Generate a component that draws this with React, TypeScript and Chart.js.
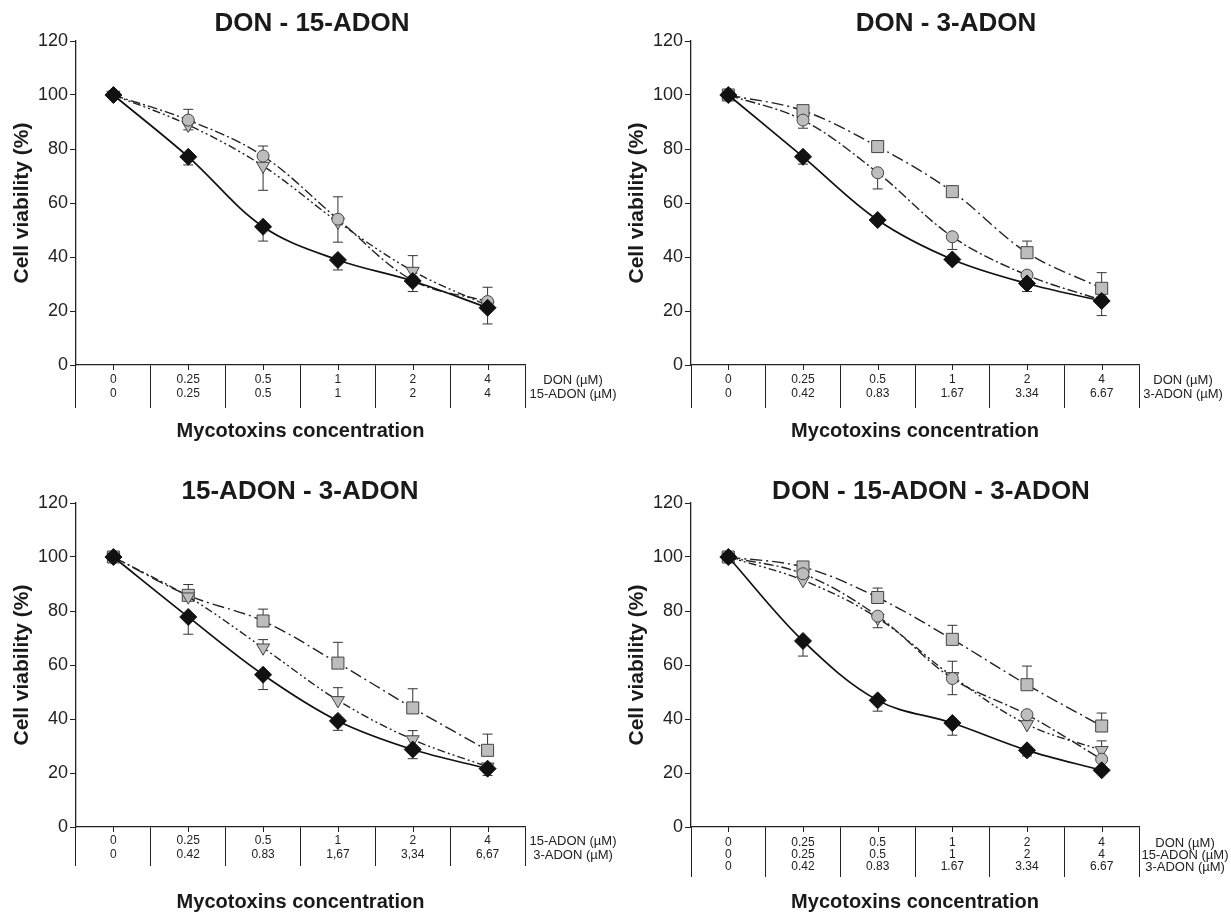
import React, { useEffect, useRef } from 'react';
import { Chart, registerables } from 'chart.js';

Chart.register(...registerables);

const FONT = "'Liberation Sans', Arial, Helvetica, sans-serif";
Chart.defaults.font.family = FONT;

// ---------- tick label rows ----------
const donDoses = ['0', '0.25', '0.5', '1', '2', '4'];
const adon15Doses = ['0', '0.25', '0.5', '1', '2', '4'];
const adon3Doses = ['0', '0.42', '0.83', '1.67', '3.34', '6.67'];
const adon3DosesComma = ['0', '0.42', '0.83', '1,67', '3,34', '6,67'];

// ---------- Panel 1: DON - 15-ADON ----------
const p1Mix = [100, 77.1, 51.2, 38.9, 31.1, 21.2];
const p1MixErrDown = [0, 3, 5.3, 3.7, 3.9, 6];
const p1Don = [100, 90.7, 77.4, 54, 31.3, 23.5];
const p1DonErrUp = [0, 4, 3.7, 8.3, 0, 5.3];
const p1Adon15 = [100, 88.9, 73.7, 53, 34.8, 22];
const p1Adon15ErrUp = [0, 0, 0, 0, 5.7, 0];
const p1Adon15ErrDown = [0, 1.8, 9, 7.5, 0, 0];

// ---------- Panel 2: DON - 3-ADON ----------
const p2Mix = [100, 77.1, 53.7, 39.1, 30.2, 23.7];
const p2MixErrDown = [0, 2.7, 0, 1.5, 3, 5.4];
const p2Don = [100, 90.7, 71.2, 47.5, 33.3, 24];
const p2DonErrDown = [0, 3, 6, 4.7, 0, 0];
const p2Adon3 = [100, 94.2, 80.9, 64.2, 41.6, 28.4];
const p2Adon3ErrUp = [0, 0, 0, 2, 4.3, 5.8];

// ---------- Panel 3: 15-ADON - 3-ADON ----------
const p3Mix = [100, 77.8, 56.4, 39.3, 28.7, 21.6];
const p3MixErrDown = [0, 6.4, 5.5, 3.5, 3.4, 2.5];
const p3Adon3 = [100, 85.8, 76.3, 60.7, 44.1, 28.4];
const p3Adon3ErrUp = [0, 4, 4.4, 7.7, 7.1, 6];
const p3Adon15 = [100, 85.3, 66.4, 46.9, 32.4, 22.3];
const p3Adon15ErrUp = [0, 0, 3, 4.7, 3.3, 0];

// ---------- Panel 4: DON - 15-ADON - 3-ADON ----------
const p4Mix = [100, 68.9, 46.9, 38.5, 28.4, 21];
const p4MixErrDown = [0, 5.6, 4, 4.5, 2.1, 0];
const p4Adon3 = [100, 96.3, 85, 69.5, 52.7, 37.4];
const p4Adon3ErrUp = [0, 0, 3.5, 5.2, 6.9, 4.8];
const p4Don = [100, 93.8, 78.1, 55, 41.6, 25.1];
const p4DonErrDown = [0, 0, 0, 6, 0, 0];
const p4Adon15 = [100, 91.4, 77.4, 55.8, 38, 28.4];
const p4Adon15ErrUp = [0, 0, 0, 5.6, 0, 3.5];
const p4Adon15ErrDown = [0, 0, 3.6, 0, 0, 0];

type Kind = 'mix' | 'don' | 'a15' | 'a3';

function seriesStyle(kind: Kind) {
  const gray = '#bdbdbd';
  switch (kind) {
    case 'mix':
      return {
        borderColor: '#111', backgroundColor: '#111', pointBackgroundColor: '#111', pointBorderColor: '#111',
        pointStyle: 'rectRot', pointRadius: 8.5, borderWidth: 1.7, borderDash: [] as number[], pointRotation: 0,
      };
    case 'don':
      return {
        borderColor: '#222', backgroundColor: gray, pointBackgroundColor: gray, pointBorderColor: '#444',
        pointStyle: 'circle', pointRadius: 6, borderWidth: 1.4, borderDash: [10, 3, 2, 3], pointRotation: 0,
      };
    case 'a15':
      return {
        borderColor: '#222', backgroundColor: gray, pointBackgroundColor: gray, pointBorderColor: '#444',
        pointStyle: 'triangle', pointRadius: 7.5, borderWidth: 1.4, borderDash: [8, 3, 2, 3, 2, 3], pointRotation: 180,
      };
    default:
      return {
        borderColor: '#222', backgroundColor: gray, pointBackgroundColor: gray, pointBorderColor: '#444',
        pointStyle: 'rect', pointRadius: 8.5, borderWidth: 1.4, borderDash: [12, 4, 2, 4], pointRotation: 0,
      };
  }
}

interface Series { label: string; kind: Kind; data: number[]; errUp?: number[]; errDown?: number[] }

interface PanelCfg {
  left: number; top: number; w: number; h: number;
  padRight: number; xHeight: number;
  title: string; titleX: number; titleY: number;
  rows: string[][]; rowNames: string[];
  tickLen: number; tickPad: number; rowH: number; rowNameDx: number;
  xTitlePad: number;
  series: Series[];
}

const panels: PanelCfg[] = [
  {
    left: 0, top: 0, w: 640, h: 457, padRight: 115, xHeight: 92,
    title: 'DON - 15-ADON', titleX: 312, titleY: 24,
    rows: [donDoses, adon15Doses], rowNames: ['DON (\u00b5M)', '15-ADON (\u00b5M)'],
    tickLen: 43, tickPad: -35, rowH: 14, rowNameDx: 48, xTitlePad: 14,
    series: [
      { label: 'DON + 15-ADON', kind: 'mix', data: p1Mix, errDown: p1MixErrDown },
      { label: 'DON', kind: 'don', data: p1Don, errUp: p1DonErrUp },
      { label: '15-ADON', kind: 'a15', data: p1Adon15, errUp: p1Adon15ErrUp, errDown: p1Adon15ErrDown },
    ],
  },
  {
    left: 615, top: 0, w: 616, h: 457, padRight: 92, xHeight: 92,
    title: 'DON - 3-ADON', titleX: 331, titleY: 24,
    rows: [donDoses, adon3Doses], rowNames: ['DON (\u00b5M)', '3-ADON (\u00b5M)'],
    tickLen: 43, tickPad: -35, rowH: 14, rowNameDx: 44, xTitlePad: 14,
    series: [
      { label: 'DON + 3-ADON', kind: 'mix', data: p2Mix, errDown: p2MixErrDown },
      { label: 'DON', kind: 'don', data: p2Don, errDown: p2DonErrDown },
      { label: '3-ADON', kind: 'a3', data: p2Adon3, errUp: p2Adon3ErrUp },
    ],
  },
  {
    left: 0, top: 462, w: 640, h: 452, padRight: 115, xHeight: 87,
    title: '15-ADON - 3-ADON', titleX: 300, titleY: 30,
    rows: [adon15Doses, adon3DosesComma], rowNames: ['15-ADON (\u00b5M)', '3-ADON (\u00b5M)'],
    tickLen: 39, tickPad: -32, rowH: 14, rowNameDx: 48, xTitlePad: 0,
    series: [
      { label: '15-ADON + 3-ADON', kind: 'mix', data: p3Mix, errDown: p3MixErrDown },
      { label: '15-ADON', kind: 'a15', data: p3Adon15, errUp: p3Adon15ErrUp },
      { label: '3-ADON', kind: 'a3', data: p3Adon3, errUp: p3Adon3ErrUp },
    ],
  },
  {
    left: 615, top: 462, w: 616, h: 452, padRight: 92, xHeight: 87,
    title: 'DON - 15-ADON - 3-ADON', titleX: 316, titleY: 30,
    rows: [donDoses, adon15Doses, adon3Doses], rowNames: ['DON (\u00b5M)', '15-ADON (\u00b5M)', '3-ADON (\u00b5M)'],
    tickLen: 50, tickPad: -40, rowH: 12, rowNameDx: 46, xTitlePad: 0,
    series: [
      { label: 'DON + 15-ADON + 3-ADON', kind: 'mix', data: p4Mix, errDown: p4MixErrDown },
      { label: 'DON', kind: 'don', data: p4Don, errDown: p4DonErrDown },
      { label: '15-ADON', kind: 'a15', data: p4Adon15, errUp: p4Adon15ErrUp, errDown: p4Adon15ErrDown },
      { label: '3-ADON', kind: 'a3', data: p4Adon3, errUp: p4Adon3ErrUp },
    ],
  },
];

const decoPlugin = {
  id: 'deco',
  beforeDatasetsDraw(chart: any) {
    const ctx = chart.ctx;
    const yScale = chart.scales.y;
    ctx.save();
    ctx.strokeStyle = '#333';
    ctx.lineWidth = 1;
    ctx.setLineDash([]);
    chart.data.datasets.forEach((ds: any, di: number) => {
      const meta = chart.getDatasetMeta(di);
      ds.data.forEach((v: number, i: number) => {
        const pt = meta.data[i];
        if (!pt) return;
        const px = pt.x;
        const up = ds.errUp ? ds.errUp[i] : 0;
        const dn = ds.errDown ? ds.errDown[i] : 0;
        const draw = (val: number) => {
          const yy = yScale.getPixelForValue(val);
          ctx.beginPath();
          ctx.moveTo(px, pt.y);
          ctx.lineTo(px, yy);
          ctx.moveTo(px - 5, yy);
          ctx.lineTo(px + 5, yy);
          ctx.stroke();
        };
        if (up) draw(v + up);
        if (dn) draw(v - dn);
      });
    });
    ctx.restore();
  },
  afterDraw(chart: any, _args: any, opts: any) {
    const ctx = chart.ctx;
    const area = chart.chartArea;
    const xScale = chart.scales.x;
    ctx.save();
    // short ticks at category centres
    ctx.strokeStyle = '#222';
    ctx.lineWidth = 1;
    for (let i = 0; i < chart.data.labels.length; i++) {
      const px = Math.round(xScale.getPixelForValue(i)) + 0.5;
      ctx.beginPath();
      ctx.moveTo(px, area.bottom);
      ctx.lineTo(px, area.bottom + 5);
      ctx.stroke();
    }
    // row names
    ctx.fillStyle = '#222';
    ctx.font = `13px ${FONT}`;
    ctx.textAlign = 'center';
    ctx.textBaseline = 'middle';
    const y0 = area.bottom + opts.tickLen + opts.tickPad + opts.rowH / 2;
    (opts.rowNames as string[]).forEach((name, r) => {
      ctx.fillText(name, area.right + opts.rowNameDx, y0 + r * opts.rowH);
    });
    // panel title
    ctx.font = `bold 26px ${FONT}`;
    ctx.fillStyle = '#1a1a1a';
    ctx.fillText(opts.title, opts.titleX, opts.titleY);
    ctx.restore();
  },
};

function Panel({ cfg }: { cfg: PanelCfg }) {
  const ref = useRef<HTMLCanvasElement>(null);
  useEffect(() => {
    const labels = cfg.rows[0].map((_, i) => cfg.rows.map((r) => r[i]));
    const datasets = cfg.series.map((s) => ({
      label: s.label,
      data: s.data,
      errUp: s.errUp,
      errDown: s.errDown,
      tension: 0.35,
      fill: false,
      pointBorderWidth: 1,
      pointHoverRadius: 8,
      ...seriesStyle(s.kind),
    }));
    const chart = new Chart(ref.current as HTMLCanvasElement, {
      type: 'line',
      data: { labels, datasets: datasets as any },
      options: {
        responsive: false,
        animation: false,
        devicePixelRatio: 1,
        layout: { padding: { top: 41, left: 0, right: cfg.padRight, bottom: 0 } },
        plugins: {
          legend: { display: false },
          tooltip: { enabled: false },
          deco: {
            title: cfg.title, titleX: cfg.titleX, titleY: cfg.titleY,
            rowNames: cfg.rowNames, rowNameDx: cfg.rowNameDx,
            tickLen: cfg.tickLen, tickPad: cfg.tickPad, rowH: cfg.rowH,
          },
        } as any,
        scales: {
          x: {
            type: 'category',
            offset: true,
            grid: {
              offset: true, drawOnChartArea: false, drawTicks: true,
              tickLength: cfg.tickLen, color: '#222', lineWidth: 1,
            },
            border: { display: true, color: '#222', width: 1.3 },
            ticks: {
              autoSkip: false, maxRotation: 0, minRotation: 0,
              padding: cfg.tickPad, color: '#222',
              font: { size: 12, lineHeight: cfg.rowH / 12 },
            },
            title: {
              display: true, text: 'Mycotoxins concentration', color: '#1a1a1a',
              font: { size: 20, weight: 'bold', lineHeight: 1.2 },
              padding: { top: 0, bottom: cfg.xTitlePad },
            },
            afterFit: (s: any) => { s.height = cfg.xHeight; },
          },
          y: {
            min: 0, max: 120,
            ticks: { stepSize: 20, color: '#222', padding: 2, font: { size: 18 } },
            grid: { drawOnChartArea: false, drawTicks: true, tickLength: 6, color: '#222', lineWidth: 1 },
            border: { display: true, color: '#222', width: 1.3 },
            title: {
              display: true, text: 'Cell viability (%)', color: '#1a1a1a',
              font: { size: 21, weight: 'bold', lineHeight: 1.2 },
              padding: { top: 10, bottom: 0 },
            },
            afterFit: (s: any) => { s.width = 76; },
          },
        },
      } as any,
      plugins: [decoPlugin],
    });
    return () => chart.destroy();
  }, []);
  return (
    <canvas
      ref={ref}
      width={cfg.w}
      height={cfg.h}
      style={{ position: 'absolute', left: cfg.left, top: cfg.top, width: cfg.w, height: cfg.h }}
    />
  );
}

export default function App() {
  return (
    <div style={{ position: 'absolute', left: 0, top: 0, width: 1231, height: 914, background: '#fff' }}>
      {panels.map((p, i) => (
        <Panel key={i} cfg={p} />
      ))}
    </div>
  );
}
